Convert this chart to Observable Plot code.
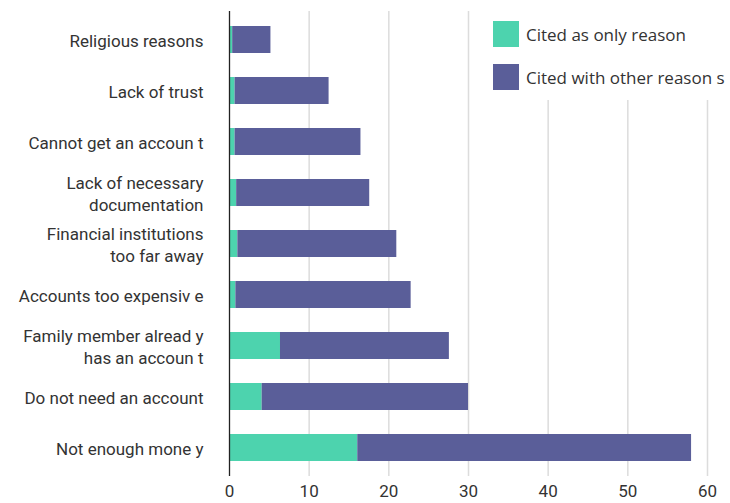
<!DOCTYPE html>
<html>
<head>
<meta charset="utf-8">
<script src="https://cdn.jsdelivr.net/npm/d3@7"></script>
<script src="https://cdn.jsdelivr.net/npm/@observablehq/plot@0.6"></script>
<style>
  body { margin: 0; background: #fff; }
  #wrap { position: relative; width: 730px; height: 503px; font-family: Roboto, "Open Sans", sans-serif; }
  #legend { position: absolute; left: 478px; top: 0; width: 252px; height: 100px; background: #fff; }
  .item { position: absolute; left: 15px; display: flex; align-items: center; font-family: "Open Sans", Roboto, sans-serif; font-size: 17px; color: #333; }
  .sw { width: 26px; height: 26px; margin-right: 7px; }
</style>
</head>
<body>
<div id="wrap"></div>
<script>
const reasons = [
  "Religious reasons",
  "Lack of trust",
  "Cannot get an accoun t",
  "Lack of necessary\ndocumentation",
  "Financial institutions\ntoo far away",
  "Accounts too expensiv e",
  "Family member alread y\nhas an accoun t",
  "Do not need an account",
  "Not enough mone y"
];
const citedOnly = [0.4, 0.7, 0.7, 0.9, 1.05, 0.8, 6.4, 4.1, 16.1];
const citedWithOther = [4.8, 11.8, 15.8, 16.7, 19.95, 22.0, 21.2, 25.9, 41.9];
const seriesNames = ["Cited as only reason", "Cited with other reason s"];
const seriesColors = ["#4dd3ae", "#5a5e99"];
const xTicks = [0, 10, 20, 30, 40, 50, 60];

const data = [];
reasons.forEach((r, i) => {
  data.push({reason: r, series: seriesNames[0], value: citedOnly[i]});
  data.push({reason: r, series: seriesNames[1], value: citedWithOther[i]});
});

const chart = Plot.plot({
  width: 730,
  height: 503,
  marginLeft: 229,
  marginRight: 23,
  marginTop: 11,
  marginBottom: 27,
  style: {fontFamily: "Roboto, 'Open Sans', sans-serif", fontSize: "17px", color: "#333", background: "#fff"},
  x: {domain: [0, 60], ticks: xTicks, label: null, tickSize: 0, tickPadding: 8},
  y: {domain: reasons, padding: 0.48, paddingOuter: 0.26, axis: null},
  color: {domain: seriesNames, range: seriesColors},
  marks: [
    Plot.gridX(xTicks.filter(d => d > 0), {stroke: "#dcdcdc", strokeOpacity: 1, strokeWidth: 1.5}),
    Plot.barX(data, {y: "reason", x: "value", fill: "series"}),
    Plot.ruleX([0], {stroke: "#222", strokeWidth: 1.3}),
    Plot.text(reasons, {y: d => d, text: d => d, frameAnchor: "left", dx: -26, textAnchor: "end", lineHeight: 1.3, fill: "#333", fontSize: 17})
  ]
});

const wrap = document.getElementById("wrap");
wrap.appendChild(chart);
const legend = document.createElement("div");
legend.id = "legend";
seriesNames.forEach((name, i) => {
  const item = document.createElement("div");
  item.className = "item";
  item.style.top = (21 + i * 43) + "px";
  const sw = document.createElement("div");
  sw.className = "sw";
  sw.style.background = seriesColors[i];
  const label = document.createElement("span");
  label.textContent = name;
  item.appendChild(sw);
  item.appendChild(label);
  legend.appendChild(item);
});
wrap.appendChild(legend);
</script>
</body>
</html>
